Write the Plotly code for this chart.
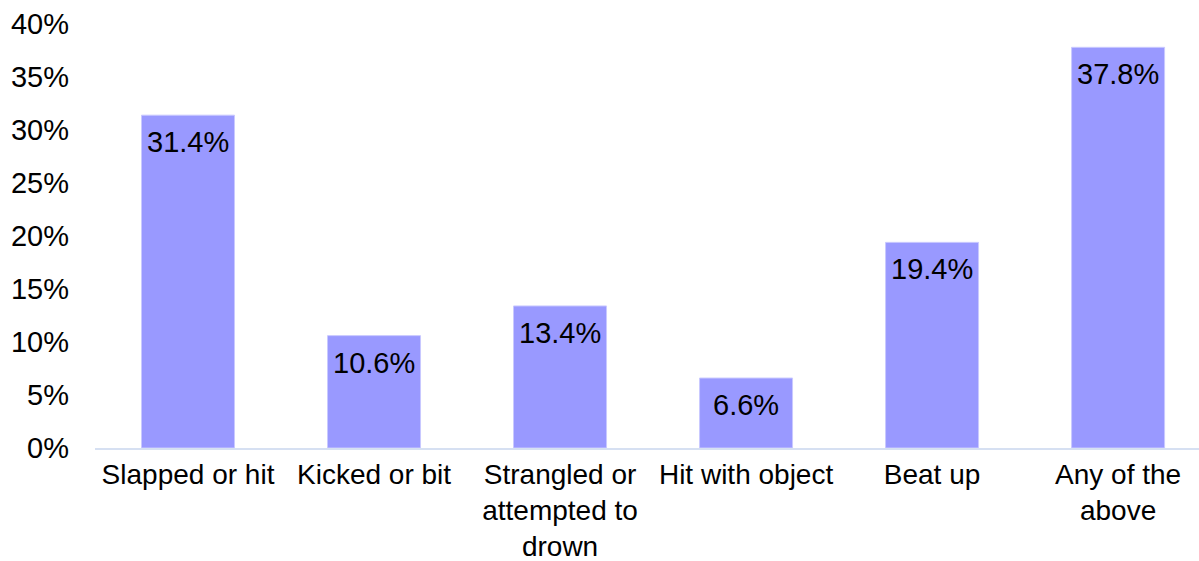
import plotly.graph_objects as go

categories = ["Slapped or hit", "Kicked or bit", "Strangled or<br>attempted to<br>drown",
              "Hit with object", "Beat up", "Any of the<br>above"]
values = [31.4, 10.6, 13.4, 6.6, 19.4, 37.8]
labels = [f"{v:.1f}%" for v in values]
y_ticks = [0, 5, 10, 15, 20, 25, 30, 35, 40]
y_tick_text = [f"{t}%" for t in y_ticks]

FONT = "Liberation Sans, Arial, sans-serif"
FS = 29
FS_X = 28

fig = go.Figure()
fig.add_trace(go.Bar(
    x=list(range(len(categories))), y=values,
    marker=dict(color="#9999FF", line=dict(color="#C9C9FF", width=1)),
    hoverinfo="skip",
))
for i, (v, t) in enumerate(zip(values, labels)):
    fig.add_annotation(x=i, y=v, text=t, showarrow=False, yanchor="top", yshift=-9,
                       font=dict(family=FONT, size=FS, color="black"))

fig.update_layout(
    width=1199, height=561,
    margin=dict(l=95, r=0, t=24, b=113, autoexpand=False),
    paper_bgcolor="white", plot_bgcolor="white",
    bargap=0.5, showlegend=False,
    font=dict(family=FONT, size=FS, color="black"),
)
fig.update_xaxes(range=[-0.5, 5.435], tickvals=list(range(len(categories))),
                 ticktext=categories, automargin=False,
                 showline=True, linecolor="#D6E0F2", linewidth=2, showgrid=False,
                 zeroline=False,
                 tickfont=dict(family=FONT, size=FS_X, color="black"))
fig.update_yaxes(range=[0, 40], tickvals=y_ticks, ticktext=y_tick_text, showgrid=False,
                 zeroline=False, showline=False, ticklabelstandoff=25, automargin=False,
                 tickfont=dict(family=FONT, size=FS, color="black"))

fig.write_html("out.html", config={"displayModeBar": False},
               post_script="document.body.style.margin='0';")
